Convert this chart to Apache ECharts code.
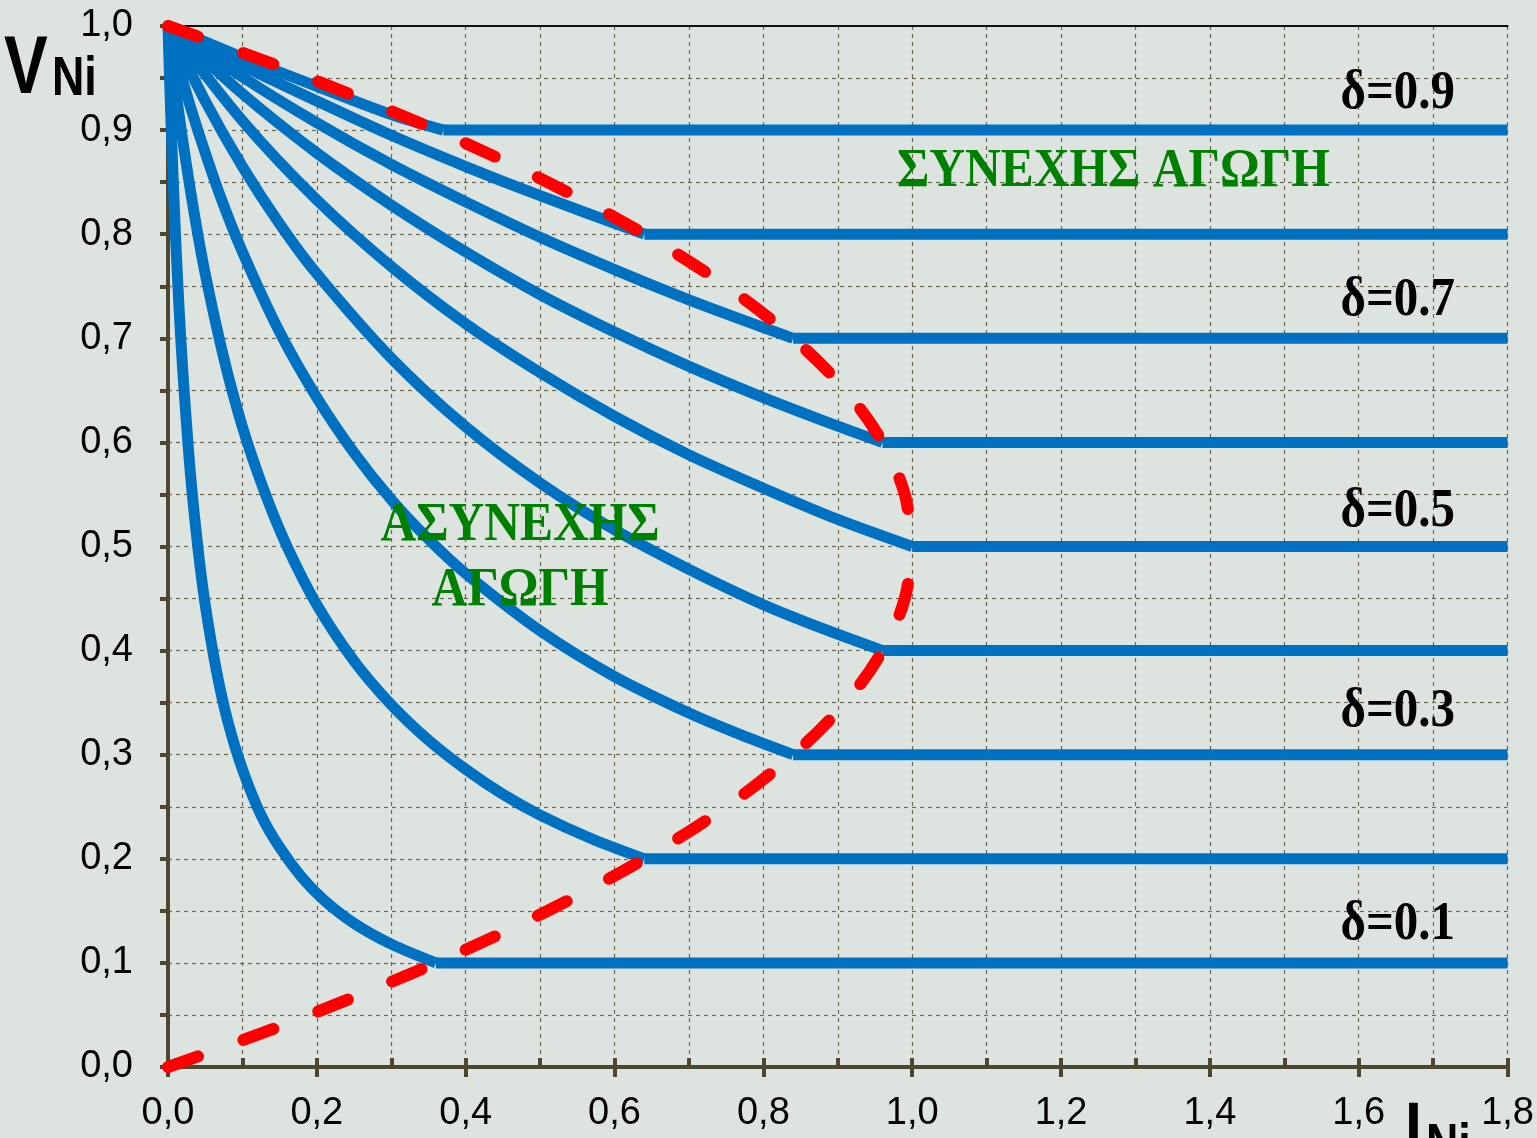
<!DOCTYPE html>
<html>
<head>
<meta charset="utf-8">
<script src="https://cdn.jsdelivr.net/npm/echarts@6/dist/echarts.min.js"></script>
<style>
html,body{margin:0;padding:0;background:#dde4e0;}
#c{width:1537px;height:1138px;}
</style>
</head>
<body>
<div id="c"></div>
<script>
// Duty-cycle labels
const deltaLabels = ['δ=0.9', 'δ=0.7', 'δ=0.5', 'δ=0.3', 'δ=0.1'];
const deltas = [0.1, 0.2, 0.3, 0.4, 0.5, 0.6, 0.7, 0.8, 0.9];
const xTickLabels = ['0,0','0,2','0,4','0,6','0,8','1,0','1,2','1,4','1,6','1,8'];
const yTickLabels = ['0,0','0,1','0,2','0,3','0,4','0,5','0,6','0,7','0,8','0,9','1,0'];

// Discontinuous-conduction curves [I_Ni, V_Ni]; last point = end of constant (continuous) part
const curve_d01 = [[0,1],[0.002,0.952],[0.005,0.889],[0.01,0.8],[0.015,0.727],[0.02,0.667],[0.03,0.571],[0.04,0.5],[0.05,0.444],[0.065,0.381],[0.08,0.333],[0.1,0.286],[0.125,0.242],[0.15,0.211],[0.18,0.182],[0.21,0.16],[0.25,0.138],[0.3,0.118],[0.36,0.1],[1.8,0.1]];
const curve_d02 = [[0,1],[0.01,0.941],[0.02,0.889],[0.035,0.821],[0.05,0.762],[0.075,0.681],[0.1,0.615],[0.13,0.552],[0.16,0.5],[0.2,0.444],[0.25,0.39],[0.3,0.348],[0.35,0.314],[0.4,0.286],[0.45,0.262],[0.5,0.242],[0.57,0.219],[0.64,0.2],[1.8,0.2]];
const curve_d03 = [[0,1],[0.02,0.947],[0.04,0.9],[0.07,0.837],[0.1,0.783],[0.15,0.706],[0.2,0.643],[0.25,0.59],[0.3,0.545],[0.35,0.507],[0.4,0.474],[0.5,0.419],[0.6,0.375],[0.7,0.34],[0.77,0.319],[0.84,0.3],[1.8,0.3]];
const curve_d04 = [[0,1],[0.05,0.928],[0.1,0.865],[0.15,0.81],[0.2,0.762],[0.3,0.681],[0.4,0.615],[0.5,0.561],[0.6,0.516],[0.7,0.478],[0.8,0.444],[0.88,0.421],[0.96,0.4],[1.8,0.4]];
const curve_d05 = [[0,1],[0.1,0.909],[0.2,0.833],[0.3,0.769],[0.4,0.714],[0.5,0.667],[0.6,0.625],[0.7,0.588],[0.8,0.556],[0.9,0.526],[1.0,0.5],[1.8,0.5]];
const curve_d06 = [[0,1],[0.1,0.935],[0.2,0.878],[0.3,0.828],[0.4,0.783],[0.5,0.742],[0.6,0.706],[0.7,0.673],[0.8,0.643],[0.88,0.621],[0.96,0.6],[1.8,0.6]];
const curve_d07 = [[0,1],[0.1,0.951],[0.2,0.907],[0.3,0.867],[0.4,0.831],[0.5,0.797],[0.6,0.766],[0.7,0.737],[0.84,0.7],[1.8,0.7]];
const curve_d08 = [[0,1],[0.1,0.962],[0.2,0.928],[0.3,0.895],[0.4,0.865],[0.5,0.837],[0.64,0.8],[1.8,0.8]];
const curve_d09 = [[0,1],[0.1,0.97],[0.2,0.942],[0.3,0.915],[0.37,0.9],[1.8,0.9]];

// Boundary between continuous and discontinuous conduction [I_Ni, V_Ni]
const boundaryUpper = [[0,1],[0.0975,0.975],[0.19,0.95],[0.36,0.9],[0.51,0.85],[0.64,0.8],[0.75,0.75],[0.84,0.7],[0.91,0.65],[0.96,0.6],[0.99,0.55],[1.0,0.5]];
const boundaryLower = [[0,0],[0.0975,0.025],[0.19,0.05],[0.36,0.1],[0.51,0.15],[0.64,0.2],[0.75,0.25],[0.84,0.3],[0.91,0.35],[0.96,0.4],[0.99,0.45],[1.0,0.5]];

const curves = [curve_d01, curve_d02, curve_d03, curve_d04, curve_d05, curve_d06, curve_d07, curve_d08, curve_d09];

const chart = echarts.init(document.getElementById('c'));
const gridColor = '#6e6852';
const axisColor = '#4d4630';
const blue = {color: '#0070c0', width: 11, join: 'round', cap: 'butt'};

const series = [];
curves.forEach((c, i) => {
  series.push({
    name: 'δ=' + deltas[i] + ' DCM',
    type: 'line', data: c.slice(0, -1),
    showSymbol: false, smooth: 0.3,
    lineStyle: blue, z: 3, silent: true
  });
  series.push({
    name: 'δ=' + deltas[i] + ' CCM',
    type: 'line', data: c.slice(-2),
    showSymbol: false, smooth: false,
    lineStyle: blue, z: 3, silent: true
  });
});
[boundaryUpper, boundaryLower].forEach((b, i) => series.push({
  name: 'boundary' + i,
  type: 'line',
  data: b,
  showSymbol: false,
  smooth: 0.35,
  lineStyle: {color: '#ff0000', width: 12, type: [32, 48], cap: 'round'},
  z: 5,
  silent: true
}));

const lblFont = 'Liberation Sans, Arial, sans-serif';
const serif = 'Liberation Serif, Times New Roman, serif';

function txt(text, x, y, size, opts) {
  return Object.assign({
    type: 'text', x: x, y: y, z: 10, scaleX: opts.sx || 1, scaleY: 1,
    style: {text: text, fontSize: size, fontWeight: 'bold', fontFamily: opts.font,
      fill: opts.fill || '#000', textAlign: opts.align || 'left', textVerticalAlign: 'middle'}
  }, opts.extra || {});
}

chart.setOption({
  backgroundColor: '#dde4e0',
  animation: false,
  grid: {left: 168, right: 29, top: 26, bottom: 71, containLabel: false},
  xAxis: [
    {
      type: 'value', min: 0, max: 1.8, interval: 0.2,
      axisLine: {show: true, onZero: false, lineStyle: {color: axisColor, width: 4}},
      axisTick: {show: true, inside: false, length: 10, lineStyle: {color: axisColor, width: 4}},
      axisLabel: {show: true, margin: 28, fontSize: 38, color: '#000', fontFamily: lblFont,
        formatter: v => xTickLabels[Math.round(v / 0.2)]},
      splitLine: {show: false}
    },
    {
      type: 'value', min: 0, max: 1.8, interval: 0.1, position: 'bottom',
      axisLine: {show: false},
      axisTick: {show: true, inside: true, length: 9, lineStyle: {color: axisColor, width: 4}},
      axisLabel: {show: false},
      splitLine: {show: true, lineStyle: {color: gridColor, width: 1.2, type: [4, 4]}}
    },
    {
      type: 'value', min: 0, max: 1.8, position: 'top',
      axisLine: {show: true, onZero: false, lineStyle: {color: '#111', width: 2}},
      axisTick: {show: false}, axisLabel: {show: false}, splitLine: {show: false}
    }
  ],
  yAxis: [
    {
      type: 'value', min: 0, max: 1.0, interval: 0.05,
      axisLine: {show: true, onZero: false, lineStyle: {color: axisColor, width: 4}},
      axisTick: {show: true, inside: false, length: 8, lineStyle: {color: axisColor, width: 4}},
      axisLabel: {show: true, margin: 35, fontSize: 38, color: '#000', fontFamily: lblFont,
        formatter: v => {
          const k = Math.round(v / 0.05);
          return k % 2 === 0 ? yTickLabels[k / 2] : '';
        }},
      splitLine: {show: true, lineStyle: {color: gridColor, width: 1.2, type: [4, 4]}}
    }
  ],
  series: series,
  graphic: [
    txt('V', 4, 71, 81, {font: lblFont, sx: 0.81}),
    txt('Ni', 52, 80, 56, {font: lblFont, sx: 0.8}),
    txt('I', 1405, 1137, 81, {font: lblFont, sx: 0.75, extra: {z: 1}}),
    txt('Ni', 1426, 1147, 56, {font: lblFont, sx: 0.8, extra: {z: 1}}),
    ...deltaLabels.map((t, i) => txt(t, 1455, [94, 301, 512, 712, 925][i], 55, {font: serif, align: 'right', sx: 0.89})),
    txt('ΣΥΝΕΧΗΣ ΑΓΩΓΗ', 897, 172, 55, {font: serif, fill: '#008000', sx: 0.9}),
    txt('ΑΣΥΝΕΧΗΣ', 520, 526, 55, {font: serif, fill: '#008000', align: 'center', sx: 0.9}),
    txt('ΑΓΩΓΗ', 520, 591, 55, {font: serif, fill: '#008000', align: 'center', sx: 0.9})
  ]
});
</script>
</body>
</html>
